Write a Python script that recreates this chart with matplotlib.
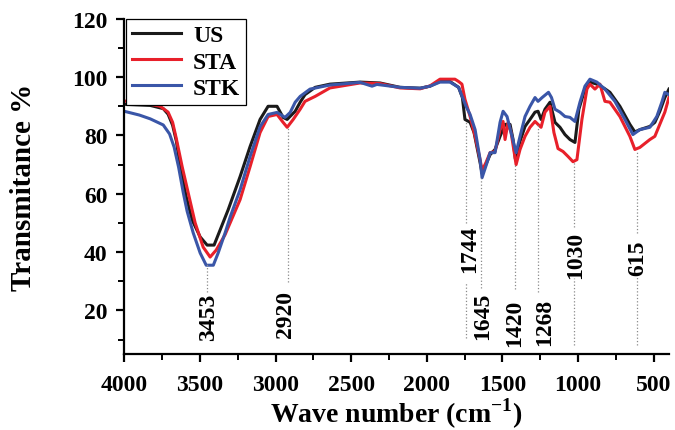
import numpy as np
import matplotlib
matplotlib.use("Agg")
import matplotlib.pyplot as plt

plt.rcParams['font.family'] = ['Liberation Serif', 'DejaVu Serif']
plt.rcParams['font.weight'] = 'bold'
plt.rcParams['mathtext.fontset'] = 'custom'
plt.rcParams['mathtext.rm'] = 'Liberation Serif:bold'
plt.rcParams['mathtext.bf'] = 'Liberation Serif:bold'

# FTIR spectra (wave number in cm-1, transmitance in %)
us_wn = [4000, 3828, 3742, 3710, 3680, 3655, 3630, 3590, 3551, 3498, 3452, 3406, 3366,
         3313, 3234, 3168, 3102, 3049, 2990, 2950, 2923, 2870, 2837, 2805, 2738,
         2640, 2441, 2309, 2177, 2044, 1979, 1913, 1847, 1790, 1765, 1748, 1714,
         1688, 1648, 1635, 1582, 1549, 1516, 1483, 1450, 1430, 1415, 1384, 1351,
         1318, 1285, 1265, 1245, 1219, 1186, 1153, 1120, 1087, 1054, 1021, 995,
         955, 922, 876, 823, 790, 724, 658, 625, 592, 526, 493, 460, 427, 400]
us_t = [90.7, 90.3, 89.2, 87.3, 83.5, 78.0, 69.3, 59.0, 51.0, 45.2, 42.4, 42.4, 47.6,
        54.5, 65.9, 76.2, 85.5, 90.0, 90.0, 86.2, 85.5, 88.3, 91.4, 94.0, 96.5,
        97.6, 98.3, 98.0, 96.5, 96.2, 96.9, 98.6, 98.5, 96.5, 93.0, 85.5, 84.5,
        81.0, 70.7, 67.0, 73.4, 75.2, 79.7, 83.8, 83.8, 78.6, 72.0, 78.0, 83.1,
        85.5, 88.0, 88.3, 85.5, 89.0, 91.4, 84.5, 82.8, 80.3, 78.6, 77.6, 89.0,
        96.0, 98.3, 97.6, 96.0, 94.8, 90.0, 83.8, 81.2, 82.0, 83.1, 84.5, 88.3,
        93.0, 95.9]

sta_wn = [4000, 3900, 3762, 3710, 3680, 3656, 3617, 3577, 3531, 3478, 3432, 3392, 3333,
          3300, 3234, 3168, 3102, 3049, 2990, 2950, 2923, 2883, 2837, 2805, 2738,
          2640, 2441, 2309, 2177, 2044, 1979, 1913, 1814, 1790, 1768, 1748, 1714,
          1681, 1648, 1635, 1609, 1582, 1549, 1516, 1496, 1483, 1463, 1443, 1410,
          1384, 1351, 1318, 1285, 1265, 1245, 1219, 1186, 1160, 1133, 1100, 1067,
          1034, 1008, 975, 942, 922, 889, 856, 823, 790, 724, 658, 625, 592, 526,
          493, 427, 400]
sta_t = [91.8, 91.5, 90.0, 88.0, 84.5, 79.0, 69.3, 60.3, 50.0, 41.7, 38.3, 40.7, 46.0,
         50.0, 58.0, 69.3, 81.0, 86.5, 87.2, 84.5, 82.8, 85.5, 89.0, 91.7, 93.4,
         96.3, 98.0, 97.8, 96.3, 96.0, 97.0, 99.3, 99.3, 98.5, 97.6, 92.4, 86.5,
         79.7, 71.7, 68.0, 70.7, 74.1, 74.5, 82.0, 84.8, 78.6, 84.5, 81.0, 70.0,
         75.2, 79.7, 82.8, 84.8, 83.8, 82.8, 88.0, 90.0, 81.0, 75.5, 74.5, 72.8,
         71.0, 71.7, 85.5, 95.9, 97.6, 95.9, 97.6, 91.7, 91.4, 86.5, 79.7, 75.2,
         75.9, 78.6, 79.7, 88.0, 93.0]

stk_wn = [4000, 3900, 3828, 3742, 3700, 3670, 3640, 3610, 3584, 3544, 3498, 3458, 3411,
          3379, 3333, 3300, 3234, 3168, 3102, 3049, 2990, 2937, 2903, 2870, 2837, 2772,
          2640, 2441, 2362, 2330, 2177, 2044, 1979, 1913, 1847, 1790, 1741, 1714,
          1681, 1648, 1635, 1602, 1582, 1549, 1516, 1496, 1470, 1437, 1410, 1384,
          1351, 1318, 1285, 1265, 1238, 1196, 1176, 1153, 1120, 1087, 1054, 1021,
          988, 955, 922, 876, 823, 757, 691, 638, 592, 526, 480, 447, 427, 400]
stk_t = [88.3, 87.0, 85.7, 83.6, 80.5, 76.0, 69.0, 60.5, 54.0, 46.6, 39.7, 35.5, 35.5,
         39.7, 46.6, 52.0, 61.4, 72.8, 83.0, 87.2, 87.9, 86.2, 87.9, 91.4, 93.4, 95.9,
         97.3, 98.2, 96.9, 97.5, 96.5, 96.2, 96.9, 98.3, 98.3, 96.5, 90.0, 87.2,
         82.0, 71.7, 65.5, 70.7, 74.1, 74.1, 84.5, 88.3, 86.5, 79.7, 74.1, 79.7,
         86.5, 90.0, 93.0, 91.7, 93.0, 94.8, 93.0, 89.0, 88.0, 86.5, 86.2, 84.8,
         91.4, 96.9, 99.3, 98.3, 95.9, 91.7, 85.5, 80.3, 82.0, 82.8, 86.5, 91.4,
         94.8, 94.0]

# peak markers: (label, line x, [line segments (ymin, ymax)], label x, label y)
peaks = [
    ("3453", 3453, [(26.2, 36.0)], 3440, 18.0),
    ("2920", 2920, [(29.7, 82.5)], 2935, 19.0),
    ("1744", 1744, [(50.0, 84.8), (10.7, 29.3)], 1714, 41.4),
    ("1645", 1645, [(27.6, 65.5)], 1629, 18.3),
    ("1420", 1420, [(27.2, 70.0)], 1417, 15.9),
    ("1268", 1262, [(26.2, 83.8)], 1222, 16.2),
    ("1030", 1030, [(48.6, 71.0), (8.0, 31.0)], 1015, 39.3),
    ("615", 612, [(46.6, 74.5), (8.0, 31.4)], 605, 38.3),
]

fig = plt.figure(figsize=(6.75, 4.31), dpi=100)
ax = fig.add_axes([0.184, 0.176, 0.807, 0.778])

ax.plot(us_wn, us_t, color='#1a1a1a', lw=2.2, label='US')
ax.plot(sta_wn, sta_t, color='#e8202a', lw=2.2, label='STA')
ax.plot(stk_wn, stk_t, color='#3a56a8', lw=2.2, label='STK')

for lab, xl, segs, xt, yt in peaks:
    for y0, y1 in segs:
        ax.vlines(xl, y0, y1, colors='#8a8a8a', linestyles=':', lw=0.9)
    ax.text(xt, yt, lab, rotation=90, ha='center', va='center',
            fontsize=17, fontweight='bold')

ax.set_xlim(4000, 400)
ax.set_ylim(5, 120)
ax.set_xticks([4000, 3500, 3000, 2500, 2000, 1500, 1000, 500])
ax.set_xticks(np.arange(3750, 400, -500), minor=True)
ax.set_yticks([20, 40, 60, 80, 100, 120])
ax.set_yticks([10, 30, 50, 70, 90, 110], minor=True)

for s in ['top', 'right']:
    ax.spines[s].set_visible(False)
for s in ['left', 'bottom']:
    ax.spines[s].set_linewidth(1.6)
ax.tick_params(which='major', direction='out', length=6, width=1.6,
               labelsize=17, pad=6)
ax.tick_params(axis='x', which='major', pad=8)
ax.tick_params(which='minor', direction='out', length=4, width=1.4)
for t in ax.get_xticklabels() + ax.get_yticklabels():
    t.set_fontweight('bold')

ax.set_xlabel(r'Wave number (cm$^{-1}$)', fontsize=20, fontweight='bold')
ax.xaxis.set_label_coords(0.5, -0.125)
ax.set_ylabel('Transmitance %', fontsize=21, fontweight='bold')
ax.yaxis.set_label_coords(-0.16, 0.5)

leg = ax.legend(loc='upper left', bbox_to_anchor=(0.003, 1.0), borderaxespad=0,
                fontsize=17, handlelength=2.1, labelspacing=0.2,
                fancybox=False, edgecolor='black', framealpha=1,
                borderpad=0.25, handletextpad=0.5)
leg.get_frame().set_linewidth(0.9)
for t in leg.get_texts():
    t.set_fontweight('bold')

fig.savefig('out.png', dpi=100)
